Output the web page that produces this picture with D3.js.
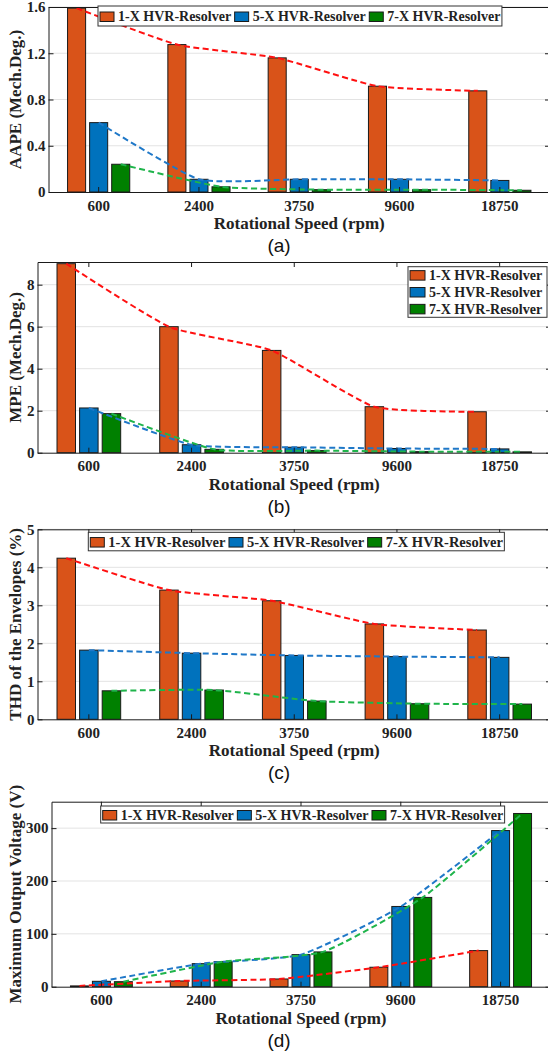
<!DOCTYPE html>
<html>
<head>
<meta charset="utf-8">
<script src="https://cdn.jsdelivr.net/npm/d3@7"></script>
<style>
  body { margin: 0; background: #fff; }
  svg { display: block; }
</style>
</head>
<body>
<svg id="fig" width="548" height="1053"></svg>
<script>
// categories and series
var speeds = ["600", "2400", "3750", "9600", "18750"];
var resolvers = ["1-X HVR-Resolver", "5-X HVR-Resolver", "7-X HVR-Resolver"];

// (a) AAPE (Mech.Deg.)
var aape1x = [1.59, 1.275, 1.16, 0.915, 0.875];
var aape5x = [0.60, 0.11, 0.11, 0.11, 0.10];
var aape7x = [0.24, 0.045, 0.02, 0.02, 0.015];
var aapeTicks = [0, 0.4, 0.8, 1.2, 1.6];

// (b) MPE (Mech.Deg.)
var mpe1x = [9.0, 6.0, 4.87, 2.19, 1.95];
var mpe5x = [2.13, 0.38, 0.26, 0.20, 0.18];
var mpe7x = [1.86, 0.16, 0.10, 0.05, 0.04];
var mpeTicks = [0, 2, 4, 6, 8];

// (c) THD of the envelopes (%)
var thd1x = [4.24, 3.40, 3.12, 2.51, 2.35];
var thd5x = [1.82, 1.74, 1.68, 1.65, 1.63];
var thd7x = [0.75, 0.77, 0.48, 0.41, 0.40];
var thdTicks = [0, 1, 2, 3, 4, 5];

// (d) Maximum output voltage (V)
var vout1x = [1.5, 10.8, 14.6, 36.8, 68.3];
var vout5x = [10.2, 43.6, 60.7, 151.8, 295.4];
var vout7x = [9.5, 47.5, 65.8, 168.9, 327.7];
var voutTicks = [0, 100, 200, 300];

var barColors = ["#d95319", "#0072bd", "#008000"];
var lineColors = ["#ff1010", "#1f78c8", "#1fb44b"];
var serif = "'Liberation Serif', 'Times New Roman', serif";

var svg = d3.select("#fig");

var panels = [
  {values: [aape1x, aape5x, aape7x], ticks: aapeTicks, ymax: 1.6,
   fmt: function(d) { return d === 0 ? "0" : d3.format(".1f")(d); },
   left: 48.5, right: 550, top: 7, bottom: 192,
   ylabel: "AAPE (Mech.Deg.)", tag: "(a)",
   legend: {type: "h", x: 98, y: 6, h: 20, size: 14}},
  {values: [mpe1x, mpe5x, mpe7x], ticks: mpeTicks, ymax: 9.08,
   fmt: d3.format("d"),
   left: 37.5, right: 551, top: 262, bottom: 452.7,
   ylabel: "MPE (Mech.Deg.)", tag: "(b)",
   legend: {type: "v", x: 408, y: 266.7, w: 139, h: 50.6, size: 14}},
  {values: [thd1x, thd5x, thd7x], ticks: thdTicks, ymax: 5,
   fmt: d3.format("d"),
   left: 37.5, right: 551, top: 529.3, bottom: 719.3,
   ylabel: "THD of the Envelopes (%)", tag: "(c)",
   legend: {type: "h", x: 88.3, y: 532.3, h: 18.5, size: 14.5}},
  {values: [vout1x, vout5x, vout7x], ticks: voutTicks, ymax: 350,
   fmt: d3.format("d"),
   left: 51.5, right: 550.5, top: 801.7, bottom: 986.7,
   ylabel: "Maximum Output Voltage (V)", tag: "(d)",
   legend: {type: "h", x: 100.7, y: 806, h: 17, size: 14}}
];

panels.forEach(drawPanel);

function drawPanel(p) {
  var x = d3.scaleBand().domain(speeds).range([p.left, p.right]);
  var bw = x.bandwidth();
  var xs = d3.scalePoint().domain(resolvers).range([-0.22 * bw, 0.22 * bw]);
  var barW = 0.18 * bw;
  var y = d3.scaleLinear().domain([0, p.ymax]).range([p.bottom, p.top]);

  var g = svg.append("g");

  // grid
  g.append("g").selectAll("line")
    .data(p.ticks.filter(function(t) { return t > 0; }))
    .enter().append("line")
      .attr("x1", p.left).attr("x2", p.right)
      .attr("y1", function(d) { return y(d); })
      .attr("y2", function(d) { return y(d); })
      .attr("stroke", "#e3e3e3")
      .attr("stroke-width", 1);

  var rows = [];
  resolvers.forEach(function(r, i) {
    speeds.forEach(function(s, j) {
      rows.push({r: r, i: i, s: s, v: p.values[i][j]});
    });
  });

  function cx(d) { return x(d.s) + bw / 2 + xs(d.r); }

  g.append("g").selectAll("rect")
    .data(rows)
    .enter().append("rect")
      .attr("x", function(d) { return cx(d) - barW / 2; })
      .attr("y", function(d) { return y(d.v); })
      .attr("width", barW)
      .attr("height", function(d) { return y(0) - y(d.v); })
      .attr("fill", function(d) { return barColors[d.i]; })
      .attr("stroke", "#1a1a1a")
      .attr("stroke-width", 1);

  var line = d3.line()
      .x(cx)
      .y(function(d) { return y(d.v); })
      .curve(d3.curveCardinal.tension(0.5));

  resolvers.forEach(function(r, i) {
    g.append("path")
      .datum(rows.filter(function(d) { return d.i === i; }))
      .attr("fill", "none")
      .attr("stroke", lineColors[i])
      .attr("stroke-width", 2)
      .attr("stroke-dasharray", "6,3.5")
      .attr("d", line);
  });

  // axes, ticks inside
  var bottomAxis = g.append("g")
      .attr("transform", "translate(0," + p.bottom + ")")
      .call(d3.axisBottom(x).tickSizeInner(-5).tickSizeOuter(0).tickPadding(8));
  var leftAxis = g.append("g")
      .attr("transform", "translate(" + p.left + ",0)")
      .call(d3.axisLeft(y).tickValues(p.ticks).tickFormat(p.fmt)
        .tickSizeInner(-5).tickSizeOuter(0).tickPadding(3));
  g.append("g")
      .attr("transform", "translate(0," + p.top + ")")
      .call(d3.axisTop(x).tickSizeInner(-5).tickSizeOuter(0).tickFormat(""));
  g.append("g")
      .attr("transform", "translate(" + p.right + ",0)")
      .call(d3.axisRight(y).tickValues(p.ticks).tickSizeInner(-5).tickSizeOuter(0).tickFormat(""));

  g.selectAll(".domain, .tick line").attr("stroke", "#1a1a1a");
  [bottomAxis, leftAxis].forEach(function(a) {
    a.selectAll("text")
      .attr("font-family", serif)
      .attr("font-weight", "bold")
      .attr("font-size", 15)
      .attr("fill", "#222");
  });

  g.append("text")
      .attr("transform", "translate(21," + (p.top + p.bottom) / 2 + ") rotate(-90)")
      .attr("text-anchor", "middle")
      .attr("font-family", serif)
      .attr("font-weight", "bold")
      .attr("font-size", 17)
      .attr("fill", "#222")
      .text(p.ylabel);

  g.append("text")
      .attr("x", (p.left + p.right) / 2)
      .attr("y", p.bottom + 37)
      .attr("text-anchor", "middle")
      .attr("font-family", serif)
      .attr("font-weight", "bold")
      .attr("font-size", 17)
      .attr("fill", "#222")
      .text("Rotational Speed (rpm)");

  g.append("text")
      .attr("x", 279)
      .attr("y", p.bottom + 60)
      .attr("text-anchor", "middle")
      .attr("font-family", "'Liberation Sans', Arial, sans-serif")
      .attr("font-size", 19)
      .attr("fill", "#111")
      .text(p.tag);

  drawLegend(g, p.legend);
}

function drawLegend(g, L) {
  var lg = g.append("g");
  var box = lg.append("rect")
      .attr("x", L.x).attr("y", L.y)
      .attr("height", L.h)
      .attr("fill", "#fff")
      .attr("stroke", "#333")
      .attr("stroke-width", 1);

  if (L.type === "h") {
    var cursor = L.x;
    resolvers.forEach(function(r, i) {
      lg.append("rect")
        .attr("x", cursor + 2).attr("y", L.y + L.h / 2 - 4)
        .attr("width", 14).attr("height", 9.5)
        .attr("fill", barColors[i])
        .attr("stroke", "#1a1a1a");
      var t = lg.append("text")
        .attr("x", cursor + 20).attr("y", L.y + L.h / 2 + 5)
        .attr("font-family", serif)
        .attr("font-weight", "bold")
        .attr("font-size", L.size)
        .attr("fill", "#222")
        .text(r);
      cursor += 20 + t.node().getComputedTextLength() + 1.5;
    });
    box.attr("width", cursor - L.x);
  } else {
    var rowH = L.h / 3;
    resolvers.forEach(function(r, i) {
      var cy = L.y + rowH * (i + 0.5);
      lg.append("rect")
        .attr("x", L.x + 2).attr("y", cy - 4.5)
        .attr("width", 15).attr("height", 9.5)
        .attr("fill", barColors[i])
        .attr("stroke", "#1a1a1a");
      lg.append("text")
        .attr("x", L.x + 21).attr("y", cy + 5)
        .attr("font-family", serif)
        .attr("font-weight", "bold")
        .attr("font-size", L.size)
        .attr("fill", "#222")
        .text(r);
    });
    box.attr("width", L.w);
  }
}
</script>
</body>
</html>
